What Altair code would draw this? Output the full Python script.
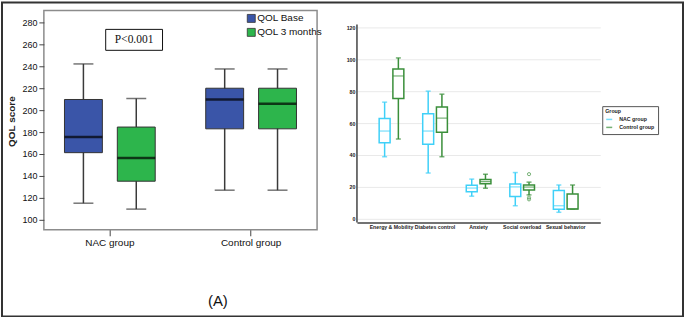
import altair as alt
import pandas as pd

# ---------------- Left panel data (QOL score) ----------------
qol_groups = ["NAC group", "Control group"]
qol_times = ["QOL Base", "QOL 3 months"]
qol_box_group = ["NAC group", "NAC group", "Control group", "Control group"]
qol_box_time = ["QOL Base", "QOL 3 months", "QOL Base", "QOL 3 months"]
qol_low = [115.0, 109.6, 126.9, 126.9]
qol_q1 = [161.2, 135.1, 183.0, 183.0]
qol_median = [175.5, 156.3, 209.8, 205.8]
qol_q3 = [209.8, 184.6, 220.1, 220.1]
qol_high = [242.3, 210.7, 237.7, 237.7]
qol_ticks = [100, 120, 140, 160, 180, 200, 220, 240, 260, 280]
qol_colors = ["#3a55a8", "#2db54c"]

# ---------------- Right panel data (domains) ----------------
dom_names = ["Energy & Mobility", "Diabetes control", "Anxiety", "Social overload", "Sexual behavior"]
dom_groups = ["NAC group", "Control group"]
dom_box_name = [n for n in dom_names for _ in range(2)]
dom_box_group = dom_groups * 5
dom_low = [38.9, 50.0, 28.7, 38.9, 14.2, 19.2, 8.2, 15.0, 4.1, 6.2]
dom_q1 = [47.7, 75.4, 46.7, 54.2, 17.0, 22.0, 14.0, 18.1, 6.0, 6.2]
dom_median = [55.0, 89.5, 55.0, 63.1, 19.3, 23.3, 20.0, 19.9, 8.2, 6.2]
dom_q3 = [62.9, 93.9, 65.8, 70.0, 21.1, 24.6, 21.8, 21.2, 17.8, 15.6]
dom_high = [73.1, 100.8, 80.0, 78.1, 24.9, 28.0, 29.0, 23.0, 21.2, 21.2]
dom_ticks = [0, 20, 40, 60, 80, 100, 120]
dom_colors = ["#3fd0f8", "#3a8f3a"]
out_name = ["Social overload", "Social overload", "Social overload"]
out_group = ["Control group", "Control group", "Control group"]
out_value = [28.0, 13.3, 12.2]

NARROW = "Liberation Sans Narrow, Arial Narrow, Liberation Sans, Arial, sans-serif"
SANS = "Liberation Sans, Arial, sans-serif"
one_row = alt.Data(values=[{}])

# ================= LEFT =================
left_df = pd.DataFrame(dict(group=qol_box_group, time=qol_box_time, low=qol_low,
                            q1=qol_q1, med=qol_median, q3=qol_q3, high=qol_high))

xL = alt.X("group:N", sort=qol_groups,
           scale=alt.Scale(domain=qol_groups, paddingInner=0.3, paddingOuter=0.117),
           axis=alt.Axis(title="(A)", titleX=174, titleY=71, titleAlign="center",
                         titleBaseline="middle", titleFont=SANS, titleFontSize=15,
                         titleFontWeight="normal", titleColor="#111",
                         labelAngle=0, labelFont=NARROW, labelFontSize=10, labelColor="#111",
                         labelPadding=2, tickSize=6, tickColor="#444", domain=False, grid=False))
xoL = alt.XOffset("time:N", scale=alt.Scale(domain=qol_times, paddingInner=0.283, paddingOuter=0.077))
yScaleL = alt.Scale(domain=[90.7, 291.2], nice=False, zero=False)
yAxisL = alt.Axis(values=qol_ticks, title="QOL score", titleX=-32, titleY=111, titleAngle=270,
                  titleAlign="center", titleBaseline="middle", titleFont=SANS, titleFontSize=10,
                  titleFontWeight="bold", titleColor="#222", labelFont=NARROW, labelFontSize=9,
                  labelColor="#111", labelPadding=2, tickSize=5, tickColor="#444",
                  domain=False, grid=False)

baseL = alt.Chart(left_df).encode(x=xL, xOffset=xoL)
whiskL = baseL.mark_rule(color="#3a3a3a", strokeWidth=1.5).encode(
    y=alt.Y("low:Q", scale=yScaleL, axis=yAxisL), y2="high:Q")
capLoL = baseL.mark_tick(color="#3a3a3a", size=20, thickness=1.5).encode(
    y=alt.Y("low:Q", scale=yScaleL, axis=yAxisL))
capHiL = baseL.mark_tick(color="#3a3a3a", size=20, thickness=1.5).encode(
    y=alt.Y("high:Q", scale=yScaleL, axis=yAxisL))
boxL = baseL.mark_bar(stroke="#333333", strokeWidth=1).encode(
    y=alt.Y("q1:Q", scale=yScaleL, axis=yAxisL), y2="q3:Q",
    color=alt.Color("time:N", scale=alt.Scale(domain=qol_times, range=qol_colors),
                    legend=alt.Legend(title=None, orient="none", legendX=203, legendY=3,
                                      symbolType="square", symbolSize=64,
                                      symbolStrokeColor="#333", symbolStrokeWidth=0.8,
                                      labelFont=NARROW, labelFontSize=10, labelColor="#111",
                                      rowPadding=2, labelOffset=1, padding=0)))
medL = baseL.mark_tick(color="#000000", size=38, thickness=2.5).encode(
    y=alt.Y("med:Q", scale=yScaleL, axis=yAxisL))

pbox = alt.Chart(one_row).mark_rect(fill="white", stroke="#111", strokeWidth=1).encode(
    x=alt.value(62), x2=alt.value(119), y=alt.value(19), y2=alt.value(40))
ptext = alt.Chart(one_row).mark_text(text="P<0.001", font="Liberation Serif, Times New Roman, serif",
                                     fontSize=11.5, color="#111").encode(
    x=alt.value(90.5), y=alt.value(29.5))
border = alt.Chart(one_row).mark_rect(fill="transparent", stroke="#333333", strokeWidth=2).encode(
    x=alt.value(-42), x2=alt.value(641), y=alt.value(-8), y2=alt.value(307))

left = alt.layer(border, whiskL, capLoL, capHiL, boxL, medL, pbox, ptext).properties(
    width=274, height=220, view=alt.ViewBackground(stroke="#8c8c8c", strokeWidth=1.5))

# ================= RIGHT =================
right_df = pd.DataFrame(dict(name=dom_box_name, group=dom_box_group, low=dom_low, q1=dom_q1,
                             med=dom_median, q3=dom_q3, high=dom_high))
out_df = pd.DataFrame(dict(name=out_name, group=out_group, value=out_value))

xR = alt.X("name:N", sort=dom_names,
           scale=alt.Scale(domain=dom_names, paddingInner=0, paddingOuter=0.293),
           axis=alt.Axis(title=None, labelAngle=0, labelFont=SANS, labelFontSize=5.2,
                         labelFontWeight="bold", labelColor="#222", labelPadding=2,
                         labelOverlap=False, ticks=False, domainColor="#444", domainWidth=1.5,
                         grid=False))
xoR = alt.XOffset("group:N", scale=alt.Scale(domain=dom_groups, paddingInner=0.203, paddingOuter=0.687))
yScaleR = alt.Scale(domain=[-2.3, 130.55], nice=False, zero=False)
yAxisR = alt.Axis(values=dom_ticks, title=None, labelFont=SANS, labelFontSize=5.3,
                  labelFontWeight="bold", labelColor="#222", labelPadding=2, ticks=False,
                  domain=False, grid=True, gridColor="#e9e9e9", gridWidth=1)
colorR = alt.Color("group:N", scale=alt.Scale(domain=dom_groups, range=dom_colors),
                   legend=alt.Legend(title="Group", orient="none", legendX=246, legendY=96,
                                     symbolType="stroke", symbolSize=36, symbolStrokeWidth=1.5,
                                     titleFont=SANS, titleFontSize=5.3, titleFontWeight="bold",
                                     titleColor="#222", labelFont=SANS, labelFontSize=5.3,
                                     labelFontWeight="bold", labelColor="#222", labelOffset=6,
                                     strokeColor="#555", fillColor="white", padding=3,
                                     rowPadding=0, titlePadding=1))

baseR = alt.Chart(right_df).encode(x=xR, xOffset=xoR, color=colorR)
axisRule = alt.Chart(one_row).mark_rule(color="#444", strokeWidth=1.5).encode(
    x=alt.value(0), y=alt.YDatum(-2.3, scale=yScaleR, axis=yAxisR), y2=alt.Y2Datum(121.7))
whLoR = baseR.mark_rule(strokeWidth=1.5).encode(
    y=alt.Y("low:Q", scale=yScaleR, axis=yAxisR), y2="q1:Q")
whHiR = baseR.mark_rule(strokeWidth=1.5).encode(
    y=alt.Y("q3:Q", scale=yScaleR, axis=yAxisR), y2="high:Q")
capLoR = baseR.mark_tick(size=5, thickness=1.5).encode(
    y=alt.Y("low:Q", scale=yScaleR, axis=yAxisR))
capHiR = baseR.mark_tick(size=5, thickness=1.5).encode(
    y=alt.Y("high:Q", scale=yScaleR, axis=yAxisR))
boxR = baseR.mark_bar(filled=False, fill="white", strokeWidth=1.5).encode(
    y=alt.Y("q1:Q", scale=yScaleR, axis=yAxisR), y2="q3:Q")
medR = baseR.mark_tick(size=11, thickness=1.2).encode(
    y=alt.Y("med:Q", scale=yScaleR, axis=yAxisR))
outR = alt.Chart(out_df).mark_point(shape="circle", filled=False, size=10, strokeWidth=1).encode(
    x=xR, xOffset=xoR, color=colorR, y=alt.Y("value:Q", scale=yScaleR, axis=yAxisR))

right = alt.layer(axisRule, whLoR, whHiR, capLoR, capHiR, boxR, medR, outR).properties(
    width=244, height=212.7, view=alt.ViewBackground(stroke="transparent"))

chart = alt.hconcat(left, right, spacing=40, bounds="flush").resolve_scale(
    x="independent", y="independent", xOffset="independent", color="independent"
).properties(padding=0, background="white")

chart.save("out.html", embed_options={"renderer": "svg", "actions": False})
